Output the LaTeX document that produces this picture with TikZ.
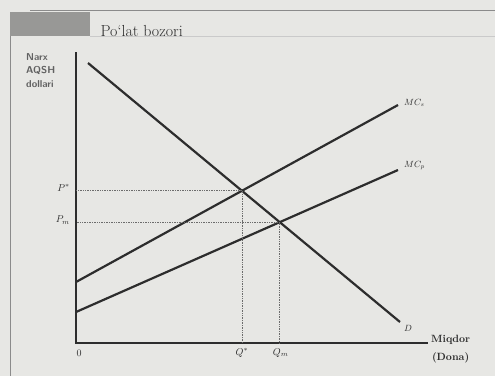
\documentclass[tikz,border=0pt]{standalone}
\usetikzlibrary{calc}
\definecolor{paper}{RGB}{231,231,228}
\definecolor{ink}{RGB}{45,45,45}
\definecolor{tabgray}{RGB}{152,152,150}
\tikzset{
    curve/.style={draw=ink, line width=2.2pt},
    axis/.style={draw=ink, line width=1.4pt},
    guide/.style={draw=ink!70, densely dotted, line width=0.7pt},
    frame/.style={draw=ink!55, line width=0.8pt},
    curvelabel/.style={font=\fontsize{9}{10}\selectfont, text=ink, inner sep=1pt},
    ticklabel/.style={font=\fontsize{10}{11}\selectfont, text=ink, inner sep=1pt},
    axislabel/.style={font=\bfseries\fontsize{10.5}{18}\selectfont, text=ink, align=center, inner sep=0pt},
    pricelabel/.style={font=\sffamily\bfseries\fontsize{10}{13.5}\selectfont, text=ink!75, align=left, inner sep=0pt}
}

\begin{document}
\begin{tikzpicture}[x=1pt, y=-1pt]
    \fill[paper] (0,0) rectangle (495,376);
    \useasboundingbox (0,0) rectangle (495,376);
    % panel frame and title tab
    \fill[tabgray] (10,12) rectangle (90,36);
    \draw[frame] (30,10) -- (495,10);
    \draw[frame] (10,36) -- (10,376);
    \draw[frame, draw=ink!25] (90,36) -- (495,36);
    \node[anchor=west, font=\fontsize{16}{18}\selectfont, text=ink] (title) at (97,31) {Po`lat bozori};
    % axes
    \coordinate (origin) at (76,343);
    \coordinate (ytop) at (76,52);
    \coordinate (xend) at (428,343);
    \draw[axis] (ytop) -- (origin) -- (xend);
    \node[pricelabel, anchor=north west] (yname) at (26,53) {Narx\\AQSH\\dollari};
    \node[ticklabel] (zero) at (79,353) {0};
    \node[axislabel, anchor=west] (xname) at (431,349) {Miqdor\\(Dona)};
    % demand and the two marginal cost lines
    \coordinate (Dtop) at (88,63);
    \coordinate (Dbot) at (400,322);
    \coordinate (MCs0) at (76,282);
    \coordinate (MCs1) at (398,105);
    \coordinate (MCp0) at (76,312);
    \coordinate (MCp1) at (398,170);
    \draw[curve] (Dtop) -- (Dbot);
    \draw[curve] (MCs0) -- (MCs1);
    \draw[curve] (MCp0) -- (MCp1);
    \node[curvelabel, anchor=west] (Dlab) at (403,328) {$D$};
    \node[curvelabel, anchor=west] (MCslab) at (403,103) {$MC_s$};
    \node[curvelabel, anchor=west] (MCplab) at (403,166) {$MC_p$};
    % equilibria
    \coordinate (Es) at (intersection of Dtop--Dbot and MCs0--MCs1);
    \coordinate (Em) at (intersection of Dtop--Dbot and MCp0--MCp1);
    \draw[guide] (Es) -- (Es -| origin);
    \draw[guide] (Es) -- (Es |- origin);
    \draw[guide] (Em) -- (Em -| origin);
    \draw[guide] (Em) -- (Em |- origin);
    \node[ticklabel, anchor=east] (Pstar) at (71,188) {$P^*$};
    \node[ticklabel, anchor=east] (Pm) at (71,220) {$P_m$};
    \node[ticklabel] (Qstar) at ($(Es |- origin)+(0,10)$) {$Q^*$};
    \node[ticklabel] (Qm) at ($(Em |- origin)+(1,10)$) {$Q_m$};
\end{tikzpicture}
\end{document}
